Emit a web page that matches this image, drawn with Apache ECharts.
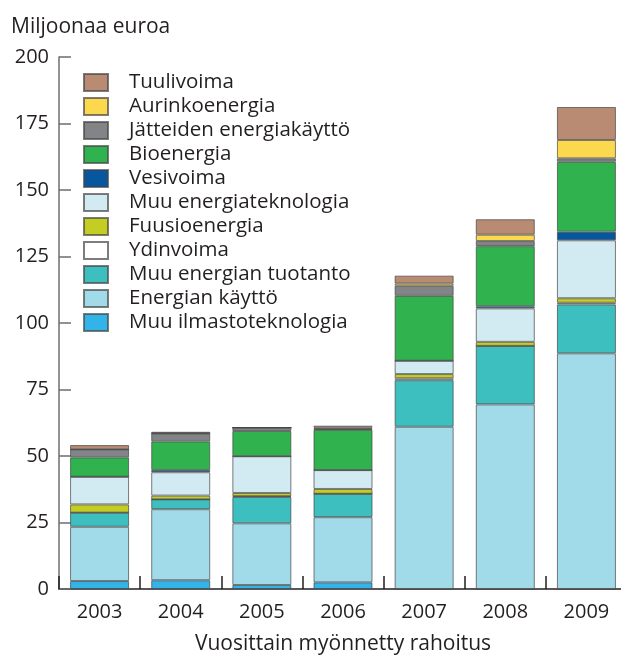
<!DOCTYPE html>
<html>
<head>
<meta charset="utf-8">
<title>Vuosittain myönnetty rahoitus</title>
<script src="https://cdn.jsdelivr.net/npm/echarts@6/dist/echarts.min.js"></script>
<style>
    html, body {margin: 0; padding: 0; background: #fff;}
    #main {width: 621px; height: 655px;}
</style>
</head>
<body>
<div id="main"></div>
<script>
var years = ['2003', '2004', '2005', '2006', '2007', '2008', '2009'];
var yTicks = [0, 25, 50, 75, 100, 125, 150, 175, 200];

// stacked from the bottom up, million euros
var muuIlmasto     = [3.0, 3.3, 1.5, 2.5, 0, 0, 0];
var energianKaytto = [20.4, 26.7, 23.2, 24.5, 61.0, 69.4, 88.6];
var muuTuotanto    = [5.3, 3.7, 9.9, 8.8, 17.5, 22.0, 18.4];
var ydinvoima      = [0, 0, 0.3, 0, 0.7, 0, 0.6];
var fuusio         = [3.1, 1.4, 1.2, 1.8, 1.6, 1.5, 1.7];
var muuEnergiatek  = [10.4, 8.8, 13.8, 7.1, 5.0, 12.6, 21.8];
var vesivoima      = [0, 0.8, 0, 0, 0, 0.8, 3.2];
var bioenergia     = [7.3, 10.8, 9.5, 15.1, 24.4, 22.6, 26.3];
var jatteet        = [3.0, 3.0, 1.3, 0.3, 3.8, 1.9, 1.3];
var aurinko        = [0, 0, 0, 0.5, 0.9, 2.4, 6.9];
var tuuli          = [1.6, 0.6, 0, 0.8, 2.9, 5.8, 12.4];

var seriesNames = ['Muu ilmastoteknologia', 'Energian käyttö', 'Muu energian tuotanto', 'Ydinvoima',
    'Fuusioenergia', 'Muu energiateknologia', 'Vesivoima', 'Bioenergia',
    'Jätteiden energiakäyttö', 'Aurinkoenergia', 'Tuulivoima'];
var seriesData = [muuIlmasto, energianKaytto, muuTuotanto, ydinvoima, fuusio, muuEnergiatek,
    vesivoima, bioenergia, jatteet, aurinko, tuuli];
var seriesColors = ['#33b4e8', '#a1dbea', '#3ebfbf', '#ffffff', '#c4cd22', '#d2eaf1',
    '#0656a0', '#30b24f', '#838488', '#fcd84f', '#b98b73'];

function drawFundingChart(id)
{
    var fontFamily = 'Open Sans';
    var textColor  = '#231f20';

    var series = [];
    for(var i = 0; i < seriesNames.length; i++)
    {
        series.push({
            name: seriesNames[i],
            type: 'bar',
            stack: 'total',
            barWidth: 59,
            itemStyle: {
                color: seriesColors[i],
                borderColor: 'rgba(70,70,70,0.7)',
                borderWidth: 1
            },
            data: seriesData[i]
        });
    }

    var chart  = echarts.init(document.getElementById(id));
    var option = {
        animation: false,
        title: {
            text: 'Miljoonaa euroa',
            left: 6,
            top: 12,
            textStyle: {color: textColor, fontSize: 21, fontWeight: 'normal', fontFamily: fontFamily}
        },
        legend: {
            orient: 'vertical',
            left: 78,
            top: 67,
            icon: 'rect',
            itemWidth: 24,
            itemHeight: 17,
            itemGap: 3,
            textStyle: {color: textColor, fontSize: 20.5, lineHeight: 20, fontFamily: fontFamily, padding: [0, 0, 0, 16]},
            data: seriesNames.slice().reverse()
        },
        grid: {
            left: 59,
            top: 57,
            width: 568,
            height: 532,
            outerBoundsMode: 'none'
        },
        yAxis: {
            type: 'value',
            min: yTicks[0],
            max: yTicks[yTicks.length - 1],
            interval: 25,
            axisLine: {show: true, lineStyle: {color: '#6d6e70', width: 1.5}},
            axisTick: {show: true, inside: true, length: 12, lineStyle: {color: '#6d6e70', width: 1.5}},
            splitLine: {show: false},
            axisLabel: {color: textColor, fontSize: 20, fontFamily: fontFamily, margin: 10, padding: [8, 0, 0, 0]}
        },
        xAxis: {
            type: 'category',
            name: 'Vuosittain myönnetty rahoitus',
            nameLocation: 'middle',
            nameGap: 45,
            nameTextStyle: {color: textColor, fontSize: 21, fontFamily: fontFamily},
            axisLine: {show: true, lineStyle: {color: '#231f20', width: 1.5}},
            axisTick: {show: true, inside: true, length: 13, lineStyle: {color: '#231f20', width: 1.5}},
            axisLabel: {color: textColor, fontSize: 20, fontFamily: fontFamily, margin: 13},
            data: years
        },
        series: series
    };
    chart.setOption(option);

    return chart;
}

drawFundingChart('main');
</script>
</body>
</html>
